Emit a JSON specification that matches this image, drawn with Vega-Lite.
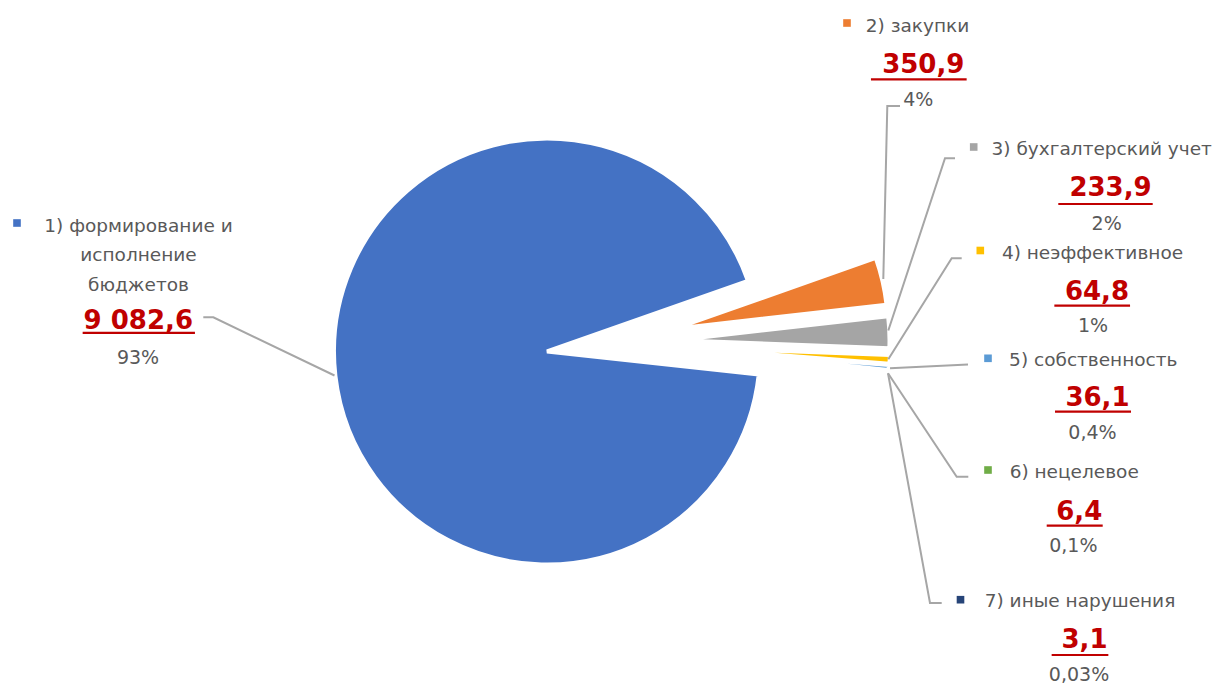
{
  "$schema": "https://vega.github.io/schema/vega-lite/v6.json",
  "width": 1218,
  "height": 684,
  "autosize": {"type": "none"},
  "padding": 0,
  "background": "white",
  "config": {"view": {"stroke": null}},
  "datasets": {
    "slices": [
      {"idx": 1, "category": "формирование и исполнение бюджетов", "name": ["1) формирование  и", "исполнение", "бюджетов"], "value": 9082.6, "label": "9 082,6", "pct": "93%"},
      {"idx": 2, "category": "закупки", "name": "2) закупки", "value": 350.9, "label": "350,9", "pct": "4%"},
      {"idx": 3, "category": "бухгалтерский учет", "name": "3) бухгалтерский учет", "value": 233.9, "label": "233,9", "pct": "2%"},
      {"idx": 4, "category": "неэффективное", "name": "4) неэффективное", "value": 64.8, "label": "64,8", "pct": "1%"},
      {"idx": 5, "category": "собственность", "name": "5) собственность", "value": 36.1, "label": "36,1", "pct": "0,4%"},
      {"idx": 6, "category": "нецелевое", "name": "6) нецелевое", "value": 6.4, "label": "6,4", "pct": "0,1%"},
      {"idx": 7, "category": "иные нарушения", "name": "7) иные нарушения", "value": 3.1, "label": "3,1", "pct": "0,03%"}
    ],
    "leaders": [
      {"line": 1, "v": 1}, {"line": 1, "v": 2}, {"line": 1, "v": 3},
      {"line": 2, "v": 4}, {"line": 2, "v": 5}, {"line": 2, "v": 6},
      {"line": 3, "v": 7}, {"line": 3, "v": 8}, {"line": 3, "v": 9},
      {"line": 4, "v": 10}, {"line": 4, "v": 11}, {"line": 4, "v": 12},
      {"line": 5, "v": 13}, {"line": 5, "v": 14},
      {"line": 6, "v": 15}, {"line": 6, "v": 16}, {"line": 6, "v": 17},
      {"line": 7, "v": 18}, {"line": 7, "v": 19}, {"line": 7, "v": 20}
    ]
  },
  "data": {"name": "slices"},
  "encoding": {
    "theta": {"field": "value", "type": "quantitative", "stack": true, "scale": {"range": [1.679, 7.9622]}},
    "order": {"field": "idx", "type": "quantitative"},
    "color": {"field": "idx", "type": "nominal", "scale": {"domain": [1, 2, 3, 4, 5, 6, 7], "range": ["#4472C4", "#ED7D31", "#A5A5A5", "#FFC000", "#5B9BD5", "#70AD47", "#264478"]}, "legend": null}
  },
  "layer": [
    {"mark": {"type": "arc", "outerRadius": 213, "stroke": "white", "strokeWidth": 4, "xOffset": -62, "yOffset": 9.5},
     "encoding": {"opacity": {"condition": {"test": "datum.idx == 1", "value": 1}, "value": 0}}},
    {"mark": {"type": "arc", "outerRadius": 213, "stroke": "white", "strokeWidth": 4, "xOffset": 65.9, "yOffset": -13.3},
     "encoding": {"opacity": {"condition": {"test": "datum.idx == 2", "value": 1}, "value": 0}}},
    {"mark": {"type": "arc", "outerRadius": 213, "stroke": "white", "strokeWidth": 4, "xOffset": 67.5, "yOffset": -1.8},
     "encoding": {"opacity": {"condition": {"test": "datum.idx == 3", "value": 1}, "value": 0}}},
    {"mark": {"type": "arc", "outerRadius": 213, "stroke": "white", "strokeWidth": 4, "xOffset": 68.1, "yOffset": 5.0},
     "encoding": {"opacity": {"condition": {"test": "datum.idx == 4", "value": 1}, "value": 0}}},
    {"mark": {"type": "arc", "outerRadius": 213, "stroke": "white", "strokeWidth": 4, "xOffset": 67.6, "yOffset": 6.3},
     "encoding": {"opacity": {"condition": {"test": "datum.idx == 5", "value": 1}, "value": 0}}},
    {"mark": {"type": "arc", "outerRadius": 213, "stroke": "white", "strokeWidth": 4, "xOffset": 67.6, "yOffset": 7.0},
     "encoding": {"opacity": {"condition": {"test": "datum.idx == 6", "value": 1}, "value": 0}}},
    {"mark": {"type": "arc", "outerRadius": 213, "stroke": "white", "strokeWidth": 4, "xOffset": 67.6, "yOffset": 7.5},
     "encoding": {"opacity": {"condition": {"test": "datum.idx == 7", "value": 1}, "value": 0}}},
    {"data": {"name": "leaders"},
     "mark": {"type": "line", "color": "#A6A6A6", "strokeWidth": 2},
     "encoding": {
       "theta": null, "order": {"field": "v", "type": "quantitative"}, "color": null,
       "x": {"field": "v", "type": "quantitative", "axis": null, "scale": {"domain": [1,2,3,4,5,6,7,8,9,10,11,12,13,14,15,16,17,18,19,20], "range": [203.3,213.3,334.5,900,887.3,883.3,955,945,888.3,961.7,951.7,888.3,968,890,968.3,956.7,888,941.7,930,888], "nice": false, "zero": false}},
       "y": {"field": "v", "type": "quantitative", "axis": null, "scale": {"domain": [1,2,3,4,5,6,7,8,9,10,11,12,13,14,15,16,17,18,19,20], "range": [317.3,317.3,375.5,106,106,279,158.3,158.3,330.5,258.3,258.3,359.3,364.5,368.3,476.7,476.7,373.3,603,603,373.3], "nice": false, "zero": false}},
       "detail": {"field": "line", "type": "nominal"}
     }},
    {"mark": {"type": "point", "shape": "square", "filled": true, "size": 58, "opacity": 1},
     "encoding": {
       "theta": null, "order": null,
       "x": {"field": "idx", "type": "quantitative", "axis": null, "scale": {"domain": [1,2,3,4,5,6,7], "range": [17,847,973.7,980.3,988,988,960.5], "nice": false, "zero": false}},
       "y": {"field": "idx", "type": "quantitative", "axis": null, "scale": {"domain": [1,2,3,4,5,6,7], "range": [223,23,147,250.5,358.3,470,599.7], "nice": false, "zero": false}}
     }},
    {"mark": {"type": "text", "font": "DejaVu Sans", "fontSize": 18.5, "color": "#595959", "align": "center", "baseline": "alphabetic", "lineHeight": 29.7},
     "encoding": {
       "theta": null, "order": null, "color": null,
       "x": {"field": "idx", "type": "quantitative", "axis": null, "scale": {"domain": [1,2,3,4,5,6,7], "range": [138.5,917.5,1101.7,1092.5,1093.3,1074.2,1080], "nice": false, "zero": false}},
       "y": {"field": "idx", "type": "quantitative", "axis": null, "scale": {"domain": [1,2,3,4,5,6,7], "range": [231.7,32.3,155,259,366,477.7,607.3], "nice": false, "zero": false}},
       "text": {"field": "name", "type": "nominal"}
     }},
    {"mark": {"type": "text", "font": "DejaVu Sans", "fontSize": 26, "fontWeight": "bold", "color": "#C00000", "align": "center", "baseline": "alphabetic"},
     "encoding": {
       "theta": null, "order": null, "color": null,
       "x": {"field": "idx", "type": "quantitative", "axis": null, "scale": {"domain": [1,2,3,4,5,6,7], "range": [138.3,923.3,1110.5,1097,1097.5,1079.3,1084.5], "nice": false, "zero": false}},
       "y": {"field": "idx", "type": "quantitative", "axis": null, "scale": {"domain": [1,2,3,4,5,6,7], "range": [329.3,72.7,195.7,300,405.7,520,648.3], "nice": false, "zero": false}},
       "text": {"field": "label", "type": "nominal"}
     }},
    {"mark": {"type": "tick", "orient": "horizontal", "thickness": 2.2, "color": "#C00000", "opacity": 1},
     "encoding": {
       "theta": null, "order": null, "color": null,
       "x": {"field": "idx", "type": "quantitative", "axis": null, "scale": {"domain": [1,2,3,4,5,6,7], "range": [138.8,918.8,1105.5,1092.2,1093,1074.7,1080], "nice": false, "zero": false}},
       "y": {"field": "idx", "type": "quantitative", "axis": null, "scale": {"domain": [1,2,3,4,5,6,7], "range": [332.8,79.3,204,305.7,411.7,525.7,655], "nice": false, "zero": false}},
       "size": {"field": "idx", "type": "quantitative", "legend": null, "scale": {"domain": [1,2,3,4,5,6,7], "range": [112.3,95.7,94.4,75.7,76,56,56.7], "zero": false, "nice": false}}
     }},
    {"mark": {"type": "text", "font": "DejaVu Sans", "fontSize": 19, "color": "#595959", "align": "center", "baseline": "alphabetic"},
     "encoding": {
       "theta": null, "order": null, "color": null,
       "x": {"field": "idx", "type": "quantitative", "axis": null, "scale": {"domain": [1,2,3,4,5,6,7], "range": [138,918.3,1106.7,1093,1092.5,1073.3,1079], "nice": false, "zero": false}},
       "y": {"field": "idx", "type": "quantitative", "axis": null, "scale": {"domain": [1,2,3,4,5,6,7], "range": [364.3,106,230,332.3,439,551.7,681], "nice": false, "zero": false}},
       "text": {"field": "pct", "type": "nominal"}
     }}
  ],
  "resolve": {"scale": {"x": "independent", "y": "independent", "size": "independent"}}
}
